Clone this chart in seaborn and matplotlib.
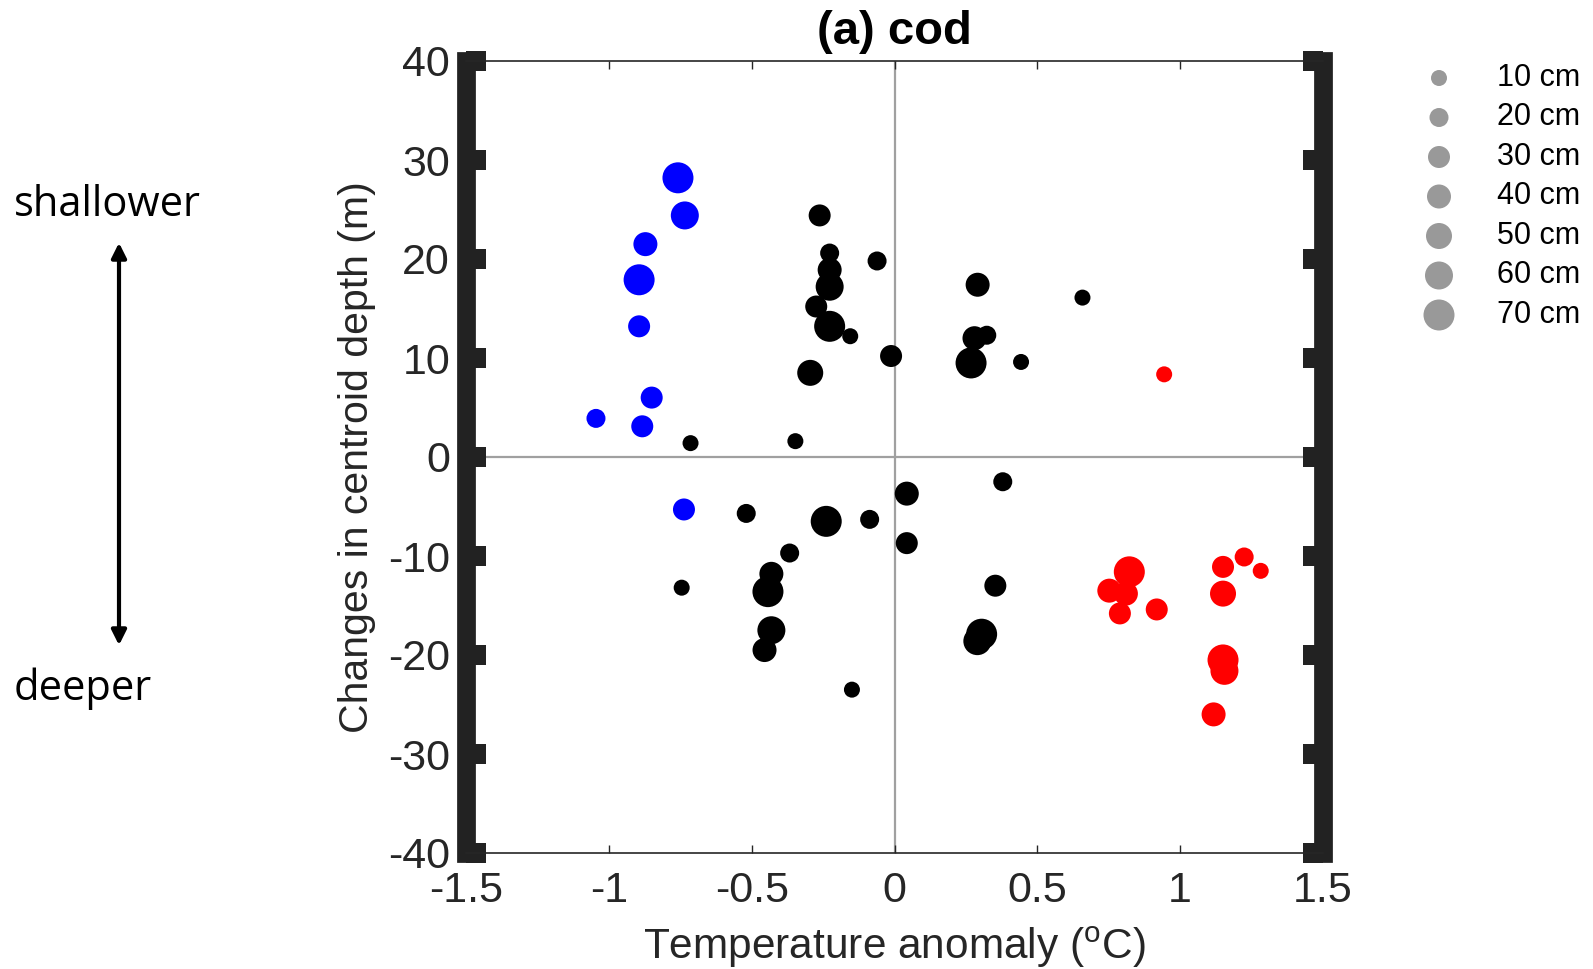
import numpy as np
import pandas as pd
import matplotlib
matplotlib.use("Agg")
import matplotlib.pyplot as plt
import seaborn as sns

# ---------------- data ----------------
cold_temp = [-0.758, -0.734, -0.872, -0.894, -0.894, -0.850, -1.045, -0.883, -0.737]
cold_depth = [28.2, 24.4, 21.5, 17.9, 13.2, 6.0, 3.9, 3.1, -5.3]
cold_len = [70, 60, 40, 70, 30, 30, 20, 30, 30]

normal_temp = [-0.714, -0.347, -0.262, -0.061, -0.227, -0.227, -0.227, -0.274, -0.227,
               -0.155, -0.012, -0.295, 0.291, 0.658, 0.280, 0.323, 0.268, 0.443,
               -0.519, -0.239, -0.087, -0.367, -0.745, -0.431, -0.443, -0.431, -0.455,
               -0.149, 0.379, 0.043, 0.043, 0.353, 0.305, 0.290]
normal_depth = [1.4, 1.6, 24.4, 19.8, 20.6, 18.9, 17.2, 15.2, 13.2,
                12.2, 10.2, 8.5, 17.4, 16.1, 12.0, 12.3, 9.5, 9.6,
                -5.7, -6.5, -6.3, -9.7, -13.2, -11.8, -13.6, -17.5, -19.5,
                -23.5, -2.5, -3.7, -8.7, -13.0, -17.9, -18.6]
normal_len = [10, 10, 30, 20, 20, 40, 60, 30, 70,
              10, 30, 50, 40, 10, 40, 20, 70, 10,
              20, 70, 20, 20, 10, 40, 70, 60, 40,
              10, 20, 40, 30, 30, 70, 60]

warm_temp = [0.944, 0.822, 0.752, 0.810, 0.789, 0.918, 1.150, 1.224, 1.282, 1.150, 1.150, 1.155, 1.117]
warm_depth = [8.35, -11.6, -13.5, -13.8, -15.8, -15.4, -11.1, -10.1, -11.5, -13.8, -20.5, -21.6, -26.0]
warm_len = [10, 70, 40, 40, 30, 30, 30, 20, 10, 50, 70, 60, 40]

size_levels = [10, 20, 30, 40, 50, 60, 70]
size_labels = ["10 cm", "20 cm", "30 cm", "40 cm", "50 cm", "60 cm", "70 cm"]

x_ticks = [-1.5, -1, -0.5, 0, 0.5, 1, 1.5]
x_tick_labels = ["-1.5", "-1", "-0.5", "0", "0.5", "1", "1.5"]
y_ticks = [-40, -30, -20, -10, 0, 10, 20, 30, 40]
y_tick_labels = ["-40", "-30", "-20", "-10", "0", "10", "20", "30", "40"]

# ---------------- styling ----------------
marker_diam_px = [16, 19, 22, 24, 26, 28, 31]
size_map = {lv: (d * 0.72) ** 2 for lv, d in zip(size_levels, marker_diam_px)}
palette = {"cold": "#0000ff", "normal": "#000000", "warm": "#ff0000"}

df = pd.DataFrame({
    "temp": cold_temp + normal_temp + warm_temp,
    "depth": cold_depth + normal_depth + warm_depth,
    "length": cold_len + normal_len + warm_len,
    "group": ["cold"] * len(cold_temp) + ["normal"] * len(normal_temp) + ["warm"] * len(warm_temp),
})

sns.set_theme(style="white")
plt.rcParams["font.family"] = ["Liberation Sans", "DejaVu Sans"]
plt.rcParams["mathtext.fontset"] = "custom"
plt.rcParams["mathtext.rm"] = "Liberation Sans"
plt.rcParams["mathtext.it"] = "Liberation Sans:italic"

W, H = 1593, 969
fig = plt.figure(figsize=(W / 100, H / 100), dpi=100)
ax = fig.add_axes([466 / W, 1 - 853 / H, (1323 - 466) / W, (853 - 61) / H])

ax.axhline(0, color="#a0a0a0", lw=1.6, zorder=0.5)
ax.axvline(0, color="#a0a0a0", lw=1.6, zorder=0.5)

sns.scatterplot(data=df, x="temp", y="depth", hue="group", size="length",
                sizes=size_map, palette=palette, legend=False, marker="o",
                edgecolor="none", linewidth=0, ax=ax, zorder=2)

ax.set_xlim(-1.5, 1.5)
ax.set_ylim(-40, 40)
ax.set_xticks(x_ticks, x_tick_labels)
ax.set_yticks(y_ticks, y_tick_labels)

dark = "#222222"
for side in ["left", "right"]:
    ax.spines[side].set_linewidth(13.5)
    ax.spines[side].set_color(dark)
for side in ["top", "bottom"]:
    ax.spines[side].set_linewidth(1.2)
    ax.spines[side].set_color("#262626")

ax.tick_params(axis="y", which="major", direction="in", left=True, right=True,
               length=14.4, width=14.4, color=dark, labelsize=31, pad=11.5,
               labelcolor="#262626")
ax.tick_params(axis="x", which="major", direction="in", top=True, bottom=True,
               length=6, width=1.0, color="#262626", labelsize=31, pad=13,
               labelcolor="#262626")

ax.set_xlabel(r"Temperature anomaly ($^{\mathrm{o}}$C)", fontsize=30.5,
              color="#262626", labelpad=10)
ax.set_ylabel("Changes in centroid depth (m)", fontsize=29.5, color="#262626",
              labelpad=9)
ax.set_title("(a) cod", fontsize=34, fontweight="bold", y=1.0, pad=12.5, color="black")

# ---------------- size legend ----------------
lax = fig.add_axes([1400 / W, 1 - 334.75 / H, 193 / W, (334.75 - 58.25) / H])
leg_df = pd.DataFrame({"x": [39] * len(size_levels), "row": list(range(len(size_levels))),
                       "length": size_levels})
sns.scatterplot(data=leg_df, x="x", y="row", size="length", sizes=size_map,
                color="#999999", edgecolor="none", linewidth=0, legend=False, ax=lax)
for i, lab in enumerate(size_labels):
    lax.text(97, i, lab, fontsize=22, va="center", ha="left", color="black")
lax.set_xlim(0, 193)
lax.set_ylim(len(size_levels) - 0.5, -0.5)
lax.axis("off")

# ---------------- direction annotation ----------------
fig.text(14 / W, 1 - 216 / H, "shallower", fontsize=30, family=["Open Sans", "DejaVu Sans"],
         ha="left", va="baseline", color="black")
fig.text(14 / W, 1 - 700 / H, "deeper", fontsize=30, family=["Open Sans", "DejaVu Sans"],
         ha="left", va="baseline", color="black")
fig.add_artist(matplotlib.patches.FancyArrowPatch(
    (119 / W, 1 - 648 / H), (119 / W, 1 - 240 / H), transform=fig.transFigure,
    arrowstyle="<|-|>", mutation_scale=22, lw=3, color="black"))

fig.savefig("out.png", dpi=100, facecolor="white")
